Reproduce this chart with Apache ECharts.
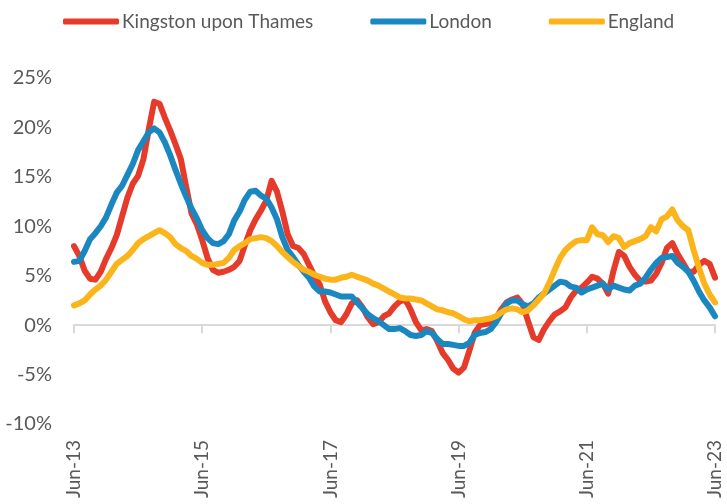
<!DOCTYPE html>
<html>
<head>
<meta charset="utf-8">
<script src="https://cdn.jsdelivr.net/npm/echarts@6/dist/echarts.min.js"></script>
<style>
html,body{margin:0;padding:0;background:#fff;}
#chart{width:727px;height:504px;}
</style>
</head>
<body>
<div id="chart"></div>
<script>
// Monthly categories Jun-13 .. Jun-23
const monthNames = ['Jan','Feb','Mar','Apr','May','Jun','Jul','Aug','Sep','Oct','Nov','Dec'];
const categories = [];
for (let k = 0; k <= 120; k++) {
  const m = (5 + k) % 12;
  const y = 13 + Math.floor((5 + k) / 12);
  categories.push(monthNames[m] + '-' + y);
}

const kingston = [
  8.0, 7.0, 5.5, 4.7, 4.6, 5.4, 6.7, 7.8, 9.1, 11.0,
  12.9, 14.3, 15.1, 16.8, 19.8, 22.6, 22.4, 21.0, 19.7, 18.3,
  16.8, 14.0, 11.3, 10.2, 8.6, 6.8, 5.6, 5.3, 5.4, 5.6,
  5.9, 6.5, 8.1, 9.6, 10.7, 11.6, 12.6, 14.6, 13.5, 11.5,
  9.2, 8.0, 7.8, 7.2, 6.1, 5.0, 4.1, 2.4, 1.3, 0.5,
  0.3, 1.1, 2.2, 2.5, 1.8, 0.8, 0.1, 0.3, 0.9, 1.2,
  1.9, 2.4, 2.6, 1.6, 0.3, -0.5, -0.4, -0.6, -1.6, -2.8,
  -3.5, -4.4, -4.8, -4.3, -2.6, -0.8, 0.0, 0.1, 0.2, 0.7,
  1.6, 2.3, 2.6, 2.8, 2.1, 0.4, -1.2, -1.5, -0.4, 0.4,
  1.1, 1.4, 1.8, 2.8, 3.5, 3.8, 4.3, 4.9, 4.7, 4.2,
  3.2, 5.5, 7.4, 7.0, 5.9, 5.1, 4.5, 4.4, 4.5, 5.2,
  6.3, 7.8, 8.3, 7.2, 6.3, 5.4, 5.4, 6.1, 6.5, 6.2,
  4.8
];

const london = [
  6.4, 6.5, 7.5, 8.7, 9.3, 10.0, 10.9, 12.2, 13.4, 14.1,
  15.2, 16.3, 17.7, 18.6, 19.5, 19.9, 19.5, 18.5, 17.2, 15.7,
  14.3, 13.0, 11.8, 10.8, 9.6, 8.8, 8.3, 8.2, 8.5, 9.2,
  10.6, 11.5, 12.7, 13.5, 13.6, 13.1, 12.8, 11.9, 10.7, 8.9,
  7.6, 6.9, 6.1, 5.4, 4.8, 3.9, 3.4, 3.4, 3.3, 3.1,
  2.9, 2.9, 2.9, 2.3, 1.7, 1.1, 0.7, 0.4, 0.0, -0.4,
  -0.4, -0.3, -0.6, -1.0, -1.1, -1.0, -0.6, -0.8, -1.4, -1.9,
  -1.9, -2.0, -2.1, -2.1, -1.8, -1.0, -0.8, -0.7, -0.4, 0.3,
  1.2, 2.2, 2.5, 2.5, 2.1, 1.9, 2.2, 2.8, 3.2, 3.6,
  4.0, 4.4, 4.3, 3.9, 3.8, 3.3, 3.6, 3.8, 4.0, 4.2,
  3.6, 4.0, 3.8, 3.6, 3.5, 4.0, 4.2, 4.8, 5.6, 6.3,
  6.8, 6.9, 7.0, 6.3, 5.9, 5.4, 4.5, 3.4, 2.5, 1.8,
  0.9
];

const england = [
  2.0, 2.2, 2.5, 3.1, 3.6, 4.0, 4.6, 5.4, 6.2, 6.6,
  7.0, 7.6, 8.3, 8.7, 9.0, 9.3, 9.6, 9.3, 8.9, 8.2,
  7.8, 7.5, 7.0, 6.7, 6.3, 6.1, 6.1, 6.2, 6.3, 6.8,
  7.6, 8.0, 8.3, 8.7, 8.8, 8.9, 8.8, 8.5, 8.0, 7.4,
  6.9, 6.4, 6.0, 5.6, 5.4, 5.1, 4.9, 4.7, 4.6, 4.6,
  4.8, 4.9, 5.1, 4.9, 4.7, 4.5, 4.2, 4.0, 3.7, 3.4,
  3.1, 2.8, 2.7, 2.7, 2.6, 2.5, 2.2, 1.9, 1.6, 1.5,
  1.3, 1.2, 0.9, 0.6, 0.4, 0.5, 0.5, 0.6, 0.7, 0.9,
  1.3, 1.6, 1.7, 1.6, 1.3, 1.5, 2.0, 2.6, 3.2, 4.3,
  5.6, 6.8, 7.6, 8.1, 8.5, 8.6, 8.6, 9.9, 9.2, 9.1,
  8.4, 9.0, 8.8, 7.9, 8.3, 8.5, 8.7, 9.0, 9.9, 9.5,
  10.7, 11.0, 11.7, 10.6, 10.0, 9.6, 7.6, 5.8, 4.2, 3.1,
  2.3
];

const seriesNames = ['Kingston upon Thames', 'London', 'England'];
const seriesColors = ['#E63A2A', '#1B87C1', '#FBB41A'];

const FONT = 'Lato';
const GREY = '#595959';

const chart = echarts.init(document.getElementById('chart'), null, {renderer: 'canvas'});

function lineSeries(name, data, color) {
  return {
    name: name,
    type: 'line',
    xAxisIndex: 0,
    data: data,
    showSymbol: false,
    symbol: 'none',
    smooth: false,
    animation: false,
    color: color,
    lineStyle: {width: 6, color: color, cap: 'round', join: 'round'}
  };
}

chart.setOption({
  animation: false,
  backgroundColor: '#fff',
  textStyle: {fontFamily: FONT},
  legend: {
    top: 7,
    left: 58,
    itemWidth: 56,
    itemHeight: 6,
    itemGap: 57,
    icon: 'roundRect',
    textStyle: {fontFamily: FONT, fontSize: 19, color: GREY, padding: [0, 0, 0, -2]},
    data: seriesNames
  },
  grid: {left: 74, right: 12, top: 78, bottom: 80, containLabel: false},
  xAxis: [
    {
      type: 'category',
      data: categories,
      boundaryGap: false,
      axisLine: {onZero: true, lineStyle: {color: '#D9D9D9', width: 2}},
      axisTick: {show: true, interval: 23, length: 8, lineStyle: {color: '#D9D9D9', width: 2}},
      axisLabel: {show: false},
      splitLine: {show: false}
    },
    {
      type: 'category',
      data: categories,
      boundaryGap: false,
      position: 'bottom',
      axisLine: {show: false, onZero: false},
      axisTick: {show: false},
      axisLabel: {
        show: true,
        interval: 23,
        rotate: 90,
        margin: 16,
        fontFamily: FONT,
        fontSize: 19,
        color: GREY
      },
      splitLine: {show: false}
    }
  ],
  yAxis: {
    type: 'value',
    min: -10,
    max: 25,
    interval: 5,
    axisLine: {show: false},
    axisTick: {show: false},
    splitLine: {show: false},
    axisLabel: {
      formatter: '{value}%',
      margin: 22,
      fontFamily: FONT,
      fontSize: 20,
      color: GREY
    }
  },
  series: [
    lineSeries(seriesNames[0], kingston, seriesColors[0]),
    lineSeries(seriesNames[1], london, seriesColors[1]),
    lineSeries(seriesNames[2], england, seriesColors[2])
  ]
});
</script>
</body>
</html>
